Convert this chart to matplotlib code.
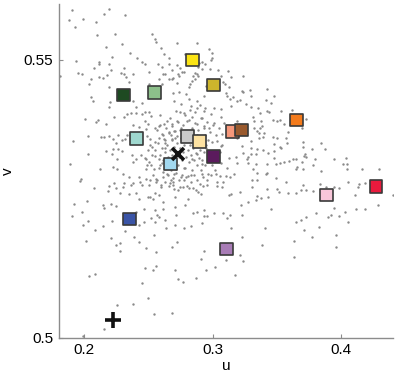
import numpy as np
import matplotlib
matplotlib.use('Agg')
import matplotlib.pyplot as plt

plt.rcParams['font.family'] = ['Liberation Sans', 'DejaVu Sans']

# Background chromaticity cloud (grouped by region)
top_u = [0.1908, 0.2196, 0.1885, 0.1994, 0.2152, 0.2317, 0.1932, 0.2092, 0.2103, 0.2240,
         0.2527, 0.2551, 0.2562, 0.2170, 0.2292, 0.2598, 0.2354, 0.2621, 0.2214, 0.2411,
         0.2450, 0.2473, 0.2660, 0.1939, 0.2113, 0.2118, 0.2191, 0.2076, 0.2209, 0.2307,
         0.2574, 0.2605, 0.2657, 0.2502, 0.2284, 0.2310, 0.2328, 0.2383, 0.1957, 0.1988,
         0.1817, 0.2051, 0.2113, 0.2146, 0.2180, 0.2352, 0.2580, 0.2611, 0.2632, 0.2040,
         0.2196, 0.2502, 0.2605, 0.2657,
         0.2722, 0.2878, 0.2971, 0.2997, 0.2994, 0.2987, 0.2784, 0.2720, 0.2743, 0.2686,
         0.2764, 0.2774, 0.2730, 0.2741, 0.2694, 0.2686, 0.2725, 0.2888, 0.2891, 0.2914,
         0.2937, 0.2979, 0.2920, 0.2865, 0.2875, 0.2850, 0.2885, 0.2860, 0.2836, 0.2823,
         0.3039, 0.3062, 0.3119, 0.3145, 0.3233, 0.3078, 0.3093, 0.2945, 0.2815, 0.3127]
top_v = [0.5589, 0.5591, 0.5571, 0.5574, 0.5582, 0.5581, 0.5559, 0.5568, 0.5544, 0.5546,
         0.5546, 0.5537, 0.5532, 0.5523, 0.5528, 0.5521, 0.5513, 0.5511, 0.5505, 0.5503,
         0.5497, 0.5493, 0.5504, 0.5498, 0.5496, 0.5492, 0.5492, 0.5486, 0.5481, 0.5485,
         0.5493, 0.5487, 0.5493, 0.5478, 0.5476, 0.5474, 0.5470, 0.5474, 0.5476, 0.5474,
         0.5471, 0.5466, 0.5469, 0.5467, 0.5473, 0.5461, 0.5466, 0.5475, 0.5474, 0.5457,
         0.5451, 0.5457, 0.5457, 0.5466,
         0.5530, 0.5531, 0.5519, 0.5513, 0.5504, 0.5500, 0.5511, 0.5490, 0.5486, 0.5482,
         0.5479, 0.5478, 0.5474, 0.5471, 0.5468, 0.5465, 0.5459, 0.5487, 0.5494, 0.5496,
         0.5493, 0.5483, 0.5484, 0.5477, 0.5475, 0.5471, 0.5471, 0.5466, 0.5462, 0.5456,
         0.5481, 0.5472, 0.5480, 0.5470, 0.5472, 0.5460, 0.5456, 0.5454, 0.5451, 0.5451]

right_u = [0.3422, 0.3480, 0.3288, 0.3235, 0.3158, 0.3132, 0.3210, 0.3262, 0.3418, 0.3614,
           0.3438, 0.3469, 0.3521, 0.3365, 0.3313, 0.3383, 0.3365, 0.3360, 0.3391, 0.3469,
           0.3568, 0.3578, 0.3698, 0.3723, 0.3702, 0.3842, 0.3873, 0.3770, 0.3729, 0.3521,
           0.3474, 0.3428, 0.3391, 0.3298, 0.3334, 0.3235, 0.3184, 0.3278, 0.3344, 0.3422,
           0.3495, 0.3521, 0.3558, 0.3593, 0.3568, 0.3645, 0.3708, 0.3796, 0.3780, 0.3941,
           0.4034, 0.4013, 0.4045, 0.4040, 0.4164, 0.4294, 0.4138, 0.4182, 0.3884, 0.3702,
           0.3344, 0.3313, 0.3272,
           0.3558, 0.3583, 0.3705, 0.3622, 0.3692, 0.3719, 0.3659, 0.3648, 0.3705, 0.3840]
right_v = [0.5447, 0.5436, 0.5446, 0.5443, 0.5434, 0.5430, 0.5428, 0.5421, 0.5428, 0.5410,
           0.5406, 0.5392, 0.5392, 0.5404, 0.5398, 0.5381, 0.5377, 0.5369, 0.5362, 0.5362,
           0.5360, 0.5351, 0.5378, 0.5394, 0.5352, 0.5350, 0.5340, 0.5340, 0.5326, 0.5344,
           0.5336, 0.5332, 0.5338, 0.5342, 0.5330, 0.5332, 0.5326, 0.5315, 0.5296, 0.5297,
           0.5313, 0.5315, 0.5317, 0.5319, 0.5281, 0.5322, 0.5327, 0.5321, 0.5311, 0.5322,
           0.5323, 0.5313, 0.5313, 0.5304, 0.5304, 0.5303, 0.5277, 0.5278, 0.5272, 0.5275,
           0.5284, 0.5303, 0.5326,
           0.5384, 0.5370, 0.5343, 0.5322, 0.5317, 0.5331, 0.5308, 0.5303, 0.5304, 0.5301]

left_u = [0.2056, 0.2072, 0.2204, 0.2191, 0.2009, 0.2092, 0.2105, 0.2173, 0.2230, 0.2307,
          0.2333, 0.2367, 0.2403, 0.2450, 0.2471, 0.2507, 0.2523, 0.2401, 0.2383, 0.2453,
          0.2377, 0.2424, 0.2476, 0.2494, 0.2481, 0.2554, 0.2580, 0.2621, 0.2644, 0.1913,
          0.2030, 0.2131, 0.2152, 0.2198, 0.2224, 0.2268, 0.2247, 0.2294, 0.2333, 0.2321,
          0.2489, 0.2510, 0.2551, 0.2525, 0.2580, 0.2605, 0.2619, 0.2632, 0.2657, 0.2632,
          0.2268, 0.2224, 0.2170, 0.2294, 0.2030, 0.2216, 0.2258, 0.2372, 0.2403, 0.2377,
          0.2445, 0.2481, 0.2502, 0.2523, 0.2580, 0.2554, 0.2605, 0.2580, 0.2481, 0.2541,
          0.1893, 0.2126, 0.2224, 0.2255]
left_v = [0.5433, 0.5426, 0.5424, 0.5415, 0.5394, 0.5388, 0.5392, 0.5384, 0.5398, 0.5398,
          0.5403, 0.5404, 0.5404, 0.5402, 0.5406, 0.5406, 0.5400, 0.5415, 0.5426, 0.5423,
          0.5383, 0.5379, 0.5391, 0.5385, 0.5376, 0.5378, 0.5381, 0.5384, 0.5390, 0.5355,
          0.5364, 0.5361, 0.5361, 0.5364, 0.5358, 0.5365, 0.5351, 0.5356, 0.5365, 0.5358,
          0.5363, 0.5357, 0.5352, 0.5343, 0.5360, 0.5366, 0.5357, 0.5351, 0.5370, 0.5342,
          0.5340, 0.5339, 0.5337, 0.5336, 0.5331, 0.5330, 0.5322, 0.5329, 0.5322, 0.5317,
          0.5329, 0.5322, 0.5316, 0.5311, 0.5322, 0.5327, 0.5315, 0.5306, 0.5303, 0.5303,
          0.5313, 0.5303, 0.5307, 0.5303]

mid_u = [0.2694, 0.2738, 0.2790, 0.2815, 0.2881, 0.2932, 0.3101, 0.3114, 0.3231, 0.3295,
         0.3451, 0.3425, 0.3529, 0.3352, 0.3295, 0.3192, 0.3140, 0.3062, 0.3010, 0.2984,
         0.2932, 0.2881, 0.2829, 0.2751, 0.2699, 0.2712, 0.2776, 0.2842, 0.2920, 0.3062,
         0.3192, 0.3321, 0.3373, 0.3503, 0.3088, 0.3010, 0.2971, 0.2932, 0.2881, 0.2803,
         0.2725, 0.2686, 0.2751, 0.2699, 0.2725, 0.2686, 0.3114, 0.3075, 0.3036, 0.3062,
         0.3192, 0.3231, 0.3295, 0.3360, 0.3347, 0.3321, 0.3399, 0.3503, 0.3477, 0.3529,
         0.3347, 0.3295, 0.3270, 0.3127, 0.3192, 0.3334, 0.3477, 0.3425, 0.2945, 0.2984,
         0.2881, 0.2842, 0.2920, 0.2776, 0.2712, 0.3062, 0.3114]
mid_v = [0.5441, 0.5442, 0.5438, 0.5429, 0.5426, 0.5435, 0.5441, 0.5435, 0.5444, 0.5435,
         0.5423, 0.5408, 0.5408, 0.5414, 0.5415, 0.5426, 0.5417, 0.5411, 0.5414, 0.5402,
         0.5408, 0.5414, 0.5417, 0.5421, 0.5426, 0.5408, 0.5405, 0.5397, 0.5396, 0.5397,
         0.5390, 0.5390, 0.5390, 0.5391, 0.5387, 0.5387, 0.5378, 0.5381, 0.5384, 0.5390,
         0.5390, 0.5384, 0.5378, 0.5372, 0.5363, 0.5357, 0.5375, 0.5366, 0.5354, 0.5345,
         0.5360, 0.5345, 0.5354, 0.5360, 0.5372, 0.5378, 0.5369, 0.5360, 0.5348, 0.5342,
         0.5339, 0.5330, 0.5321, 0.5324, 0.5315, 0.5312, 0.5324, 0.5312, 0.5342, 0.5336,
         0.5330, 0.5321, 0.5312, 0.5306, 0.5303, 0.5315, 0.5306]

lowleft_u = [0.1978, 0.1970, 0.2074, 0.2191, 0.2230, 0.2185, 0.2300, 0.2302, 0.2352, 0.2377,
             0.2424, 0.2437, 0.2481, 0.2515, 0.2450, 0.2507, 0.2559, 0.2611, 0.2644, 0.2346,
             0.2429, 0.2515, 0.2533, 0.2580, 0.2611, 0.1926, 0.2027, 0.2146, 0.2157, 0.2209,
             0.2247, 0.1903, 0.1981, 0.2030, 0.1991, 0.2146, 0.2216, 0.2408, 0.2463,
             0.2549, 0.2566, 0.2523, 0.2580, 0.2632, 0.2554, 0.2424, 0.2465, 0.2087, 0.2321,
             0.2385, 0.2541, 0.2014, 0.2212, 0.2282, 0.2247, 0.2429, 0.2276, 0.2481, 0.2562,
             0.2037, 0.2089, 0.2471, 0.2535, 0.2562, 0.2450, 0.2496, 0.2255, 0.2380, 0.2541,
             0.2686, 0.2152, 0.1996, 0.2710, 0.2730, 0.2873, 0.2782, 0.2640, 0.2613, 0.2665,
             0.2743, 0.2549, 0.2496, 0.2406, 0.2282, 0.2245, 0.2307, 0.2367, 0.2562, 0.2601, 0.2678]
lowleft_v = [0.5285, 0.5282, 0.5270, 0.5273, 0.5279, 0.5264, 0.5272, 0.5295, 0.5290, 0.5279,
             0.5289, 0.5281, 0.5286, 0.5284, 0.5275, 0.5275, 0.5286, 0.5289, 0.5295, 0.5259,
             0.5250, 0.5254, 0.5250, 0.5257, 0.5245, 0.5240, 0.5246, 0.5239, 0.5234, 0.5240,
             0.5237, 0.5219, 0.5227, 0.5211, 0.5204, 0.5201, 0.5211, 0.5227, 0.5231,
             0.5230, 0.5221, 0.5216, 0.5218, 0.5212, 0.5209, 0.5204, 0.5209, 0.5195, 0.5192,
             0.5182, 0.5185, 0.5174, 0.5179, 0.5171, 0.5168, 0.5173, 0.5157, 0.5161, 0.5155,
             0.5111, 0.5115, 0.5125, 0.5123, 0.5129, 0.5098, 0.5072, 0.5059, 0.5061, 0.5043,
             0.5044, 0.5016, 0.5003, 0.5123, 0.5106, 0.5266, 0.5239, 0.5197, 0.5231, 0.5278,
             0.5272, 0.5260, 0.5254, 0.5260, 0.5260, 0.5269, 0.5279, 0.5275, 0.5281, 0.5272, 0.5284]

lowright_u = [0.2699, 0.2751, 0.2790, 0.2834, 0.2920, 0.2927, 0.2963, 0.3023, 0.3057, 0.3101,
              0.3134, 0.3165, 0.3309, 0.3412, 0.3490, 0.2694, 0.2776, 0.2901, 0.2958, 0.3036,
              0.3083, 0.3036, 0.3075, 0.2803, 0.2815, 0.2850, 0.2694, 0.2699, 0.3309, 0.3420,
              0.3503, 0.3516, 0.3212, 0.3140, 0.3127, 0.2906, 0.2808, 0.2710, 0.3342, 0.3373,
              0.3430, 0.3274, 0.3334, 0.3218, 0.2706, 0.2932, 0.3451, 0.2850, 0.2875, 0.3010,
              0.3083, 0.3134, 0.3231, 0.2932, 0.2953, 0.3109, 0.2712, 0.2920, 0.2706, 0.2829,
              0.2776, 0.3140, 0.3407, 0.3225, 0.2725, 0.2686, 0.2932, 0.3212, 0.3386,
              0.3585, 0.3651, 0.3690, 0.3729, 0.3780, 0.3832, 0.3941, 0.3982, 0.4052, 0.4130,
              0.4402, 0.4105, 0.4112, 0.4182, 0.4286, 0.4052, 0.4027, 0.3982, 0.3941, 0.3923,
              0.3897, 0.3801, 0.3729, 0.3690, 0.3651, 0.3708, 0.3827, 0.3768, 0.3962, 0.3962,
              0.3632, 0.3630, 0.2769, 0.2867, 0.2945, 0.3015, 0.2912, 0.3106, 0.3235, 0.3176]
lowright_v = [0.5295, 0.5289, 0.5289, 0.5293, 0.5295, 0.5289, 0.5295, 0.5294, 0.5291, 0.5291,
              0.5289, 0.5294, 0.5284, 0.5295, 0.5288, 0.5281, 0.5284, 0.5276, 0.5275, 0.5281,
              0.5281, 0.5273, 0.5272, 0.5273, 0.5270, 0.5270, 0.5275, 0.5268, 0.5272, 0.5267,
              0.5268, 0.5263, 0.5263, 0.5259, 0.5257, 0.5259, 0.5250, 0.5254, 0.5255, 0.5252,
              0.5254, 0.5245, 0.5248, 0.5239, 0.5236, 0.5230, 0.5232, 0.5225, 0.5227, 0.5225,
              0.5225, 0.5222, 0.5221, 0.5219, 0.5219, 0.5216, 0.5222, 0.5207, 0.5204, 0.5201,
              0.5197, 0.5197, 0.5198, 0.5182, 0.5173, 0.5164, 0.5156, 0.5150, 0.5168,
              0.5260, 0.5260, 0.5266, 0.5266, 0.5265, 0.5277, 0.5272, 0.5269, 0.5281, 0.5272,
              0.5257, 0.5257, 0.5231, 0.5231, 0.5239, 0.5209, 0.5227, 0.5219, 0.5233, 0.5221,
              0.5218, 0.5224, 0.5218, 0.5212, 0.5209, 0.5195, 0.5200, 0.5182, 0.5185, 0.5164,
              0.5175, 0.5146, 0.5101, 0.5107, 0.5122, 0.5127, 0.5142, 0.5140, 0.5139, 0.5114]

core_u = [0.2510, 0.2549, 0.2572, 0.2588, 0.2603, 0.2626, 0.2611, 0.2642, 0.2650, 0.2665,
          0.2665, 0.2681, 0.2681, 0.2696, 0.2704, 0.2712, 0.2720, 0.2727, 0.2735, 0.2743,
          0.2751, 0.2759, 0.2766, 0.2774, 0.2782, 0.2790, 0.2797, 0.2805, 0.2813, 0.2821,
          0.2829, 0.2836, 0.2844, 0.2852, 0.2860, 0.2867, 0.2875, 0.2883, 0.2891, 0.2899,
          0.2906, 0.2914, 0.2930, 0.2938, 0.2945, 0.2961, 0.2992, 0.2588, 0.2611, 0.2634,
          0.2650, 0.2673, 0.2689, 0.2712, 0.2735, 0.2759, 0.2805, 0.2829, 0.2852, 0.2875,
          0.2564, 0.2588, 0.2611, 0.2634, 0.2658, 0.2681, 0.2704, 0.2727, 0.2743, 0.2766,
          0.2813, 0.2836, 0.2860, 0.2883, 0.2906, 0.2930, 0.2953, 0.2977, 0.3000, 0.3023,
          0.3047, 0.2525, 0.2494, 0.2471, 0.2486, 0.2533, 0.2564, 0.2595, 0.2626, 0.2658,
          0.2727, 0.2766, 0.2883, 0.2922, 0.2953, 0.2984, 0.3016, 0.3039, 0.3054, 0.3070,
          0.2626, 0.2673, 0.2704, 0.2938, 0.2961, 0.2992, 0.2743, 0.2782, 0.2821, 0.2860,
          0.2899, 0.2938, 0.2665, 0.2588, 0.2875]
core_v = [0.5347, 0.5338, 0.5351, 0.5329, 0.5342, 0.5335, 0.5320, 0.5347, 0.5325, 0.5338,
          0.5317, 0.5356, 0.5329, 0.5343, 0.5320, 0.5334, 0.5351, 0.5311, 0.5325, 0.5342,
          0.5360, 0.5320, 0.5334, 0.5347, 0.5306, 0.5325, 0.5356, 0.5338, 0.5317, 0.5347,
          0.5329, 0.5302, 0.5342, 0.5320, 0.5356, 0.5333, 0.5311, 0.5347, 0.5324, 0.5338,
          0.5302, 0.5320, 0.5334, 0.5311, 0.5347, 0.5324, 0.5311, 0.5311, 0.5299, 0.5306,
          0.5293, 0.5302, 0.5288, 0.5297, 0.5284, 0.5293, 0.5291, 0.5281, 0.5293, 0.5284,
          0.5374, 0.5383, 0.5365, 0.5378, 0.5369, 0.5381, 0.5372, 0.5388, 0.5374, 0.5383,
          0.5392, 0.5378, 0.5387, 0.5374, 0.5396, 0.5378, 0.5388, 0.5370, 0.5383, 0.5365,
          0.5378, 0.5329, 0.5338, 0.5324, 0.5311, 0.5293, 0.5284, 0.5275, 0.5281, 0.5273,
          0.5266, 0.5272, 0.5263, 0.5273, 0.5284, 0.5293, 0.5302, 0.5320, 0.5334, 0.5347,
          0.5356, 0.5365, 0.5360, 0.5365, 0.5356, 0.5352, 0.5406, 0.5401, 0.5410, 0.5406,
          0.5419, 0.5414, 0.5396, 0.5401, 0.5365]

# Coloured patches
patch_u = [0.2844, 0.3008, 0.2307, 0.2549, 0.2409, 0.2805, 0.2899, 0.2673,
           0.3008, 0.3156, 0.3226, 0.3654, 0.4269, 0.3887, 0.2354, 0.3109]
patch_v = [0.5500, 0.5455, 0.5437, 0.5442, 0.5358, 0.5363, 0.5353, 0.5313,
           0.5327, 0.5371, 0.5374, 0.5392, 0.5273, 0.5257, 0.5214, 0.5160]
patch_colors = ['#fbe414', '#cdb52c', '#1e4a22', '#8cbf8a', '#9fd8cf', '#c9c9c9', '#fde2a2', '#a2d8ef',
                '#5b1b5d', '#f6987b', '#99592d', '#f47b1c', '#e91a3d', '#f8c6d9', '#3a54a6', '#a87cb6']

# White point (x) and the other reference (+)
white_u, white_v = 0.2728, 0.5330
plus_u, plus_v = 0.2222, 0.5032

bg_u = np.concatenate([top_u, right_u, left_u, mid_u, lowleft_u, lowright_u, core_u])
bg_v = np.concatenate([top_v, right_v, left_v, mid_v, lowleft_v, lowright_v, core_v])

fig = plt.figure(figsize=(3.98, 3.78), dpi=100)
ax = fig.add_axes([0.148, 0.106, 0.839, 0.884])

ax.scatter(bg_u, bg_v, s=3, color='#8a8a8a', linewidths=0, zorder=1)
ax.scatter(patch_u, patch_v, s=85, marker='s', c=patch_colors,
           edgecolors='#3a3a3a', linewidths=1.2, zorder=3)
ax.plot(white_u, white_v, marker='x', color='#111111', markersize=8, mew=2.6, zorder=4)
ax.plot(plus_u, plus_v, marker='+', color='#111111', markersize=11, mew=2.6, zorder=4)

# Axes styling
ax.set_xlim(0.1805, 0.44)
ax.set_ylim(0.5, 0.5601)
ax.set_xticks([0.2, 0.3, 0.4])
ax.set_xticklabels(['0.2', '0.3', '0.4'])
ax.set_yticks([0.5, 0.55])
ax.set_yticklabels(['0.5', '0.55'])
for side in ['top', 'right']:
    ax.spines[side].set_visible(False)
for side in ['left', 'bottom']:
    ax.spines[side].set_color('#8c8c8c')
    ax.spines[side].set_linewidth(1.0)
ax.tick_params(direction='in', length=3, color='#8c8c8c', labelsize=11, pad=4)
ax.set_xlabel('u', fontsize=11, labelpad=1)
ax.set_ylabel('v', fontsize=11, labelpad=6)

fig.savefig('out.png', dpi=100)
